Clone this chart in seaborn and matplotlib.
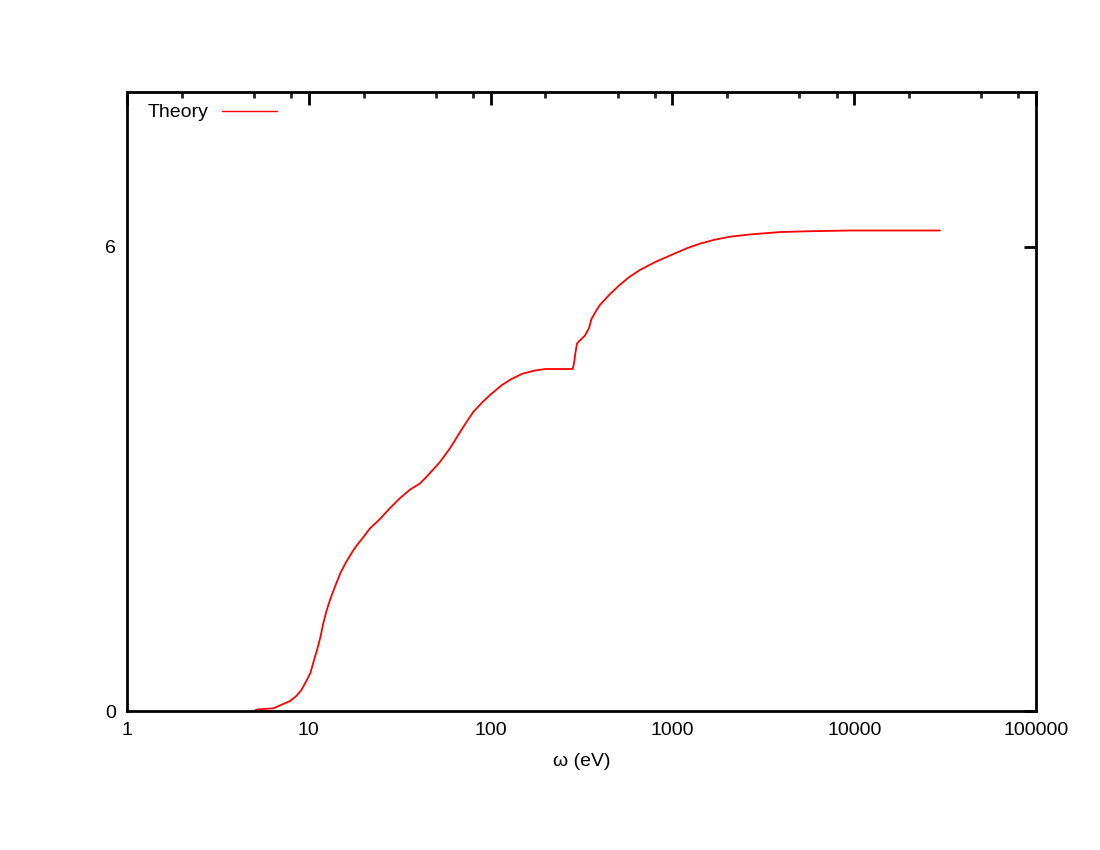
import numpy as np
import pandas as pd
import matplotlib
matplotlib.use("Agg")
import matplotlib.pyplot as plt
import matplotlib.ticker as mticker
import seaborn as sns

# Data (omega in eV, value)
omega = [5.0, 5.2, 6.4, 7.9, 8.5, 9.1, 9.6, 10.2, 10.6, 11.1, 11.6, 12.0, 12.5, 13.1,
         14.0, 14.9, 16.0, 17.6, 18.5, 20.0, 21.7, 24.6, 27.9, 31.7, 36.0, 40.8,
         45.0, 52.7, 60.0, 67.7, 73.0, 80.0, 90.0, 100.0, 115.0, 130.0, 150.0,
         175.0, 200.0, 240.0, 283.0, 287.5, 292.4, 298.7, 310.0, 330.0, 348.0,
         358.0, 380.0, 400.0, 450.0, 515.0, 580.0, 663.0, 800.0, 1000.0, 1200.0,
         1418.0, 1700.0, 2073.0, 2700.0, 3907.0, 5500.0, 9480.0, 29600.0]
theory = [0.0, 0.02, 0.035, 0.13, 0.19, 0.27, 0.37, 0.49, 0.63, 0.79, 0.96, 1.13, 1.29,
          1.44, 1.62, 1.78, 1.92, 2.08, 2.15, 2.25, 2.36, 2.48, 2.62, 2.75, 2.86,
          2.94, 3.04, 3.22, 3.40, 3.60, 3.72, 3.86, 3.99, 4.09, 4.21, 4.29, 4.36,
          4.40, 4.42, 4.42, 4.42, 4.49, 4.62, 4.75, 4.79, 4.85, 4.95,
          5.06, 5.17, 5.25, 5.38, 5.51, 5.61, 5.70, 5.80, 5.90, 5.98,
          6.04, 6.09, 6.13, 6.16, 6.19, 6.20, 6.21, 6.21]
x_ticks = [1, 10, 100, 1000, 10000, 100000]
x_tick_labels = ["1", "10", "100", "1000", "10000", "100000"]
y_ticks = [0, 6]
y_tick_labels = ["0", "6"]

df = pd.DataFrame({"omega": omega, "Theory": theory})

sns.set_style("white")
plt.rcParams["font.family"] = ["Liberation Sans", "DejaVu Sans"]
plt.rcParams["text.color"] = "black"
plt.rcParams["axes.labelcolor"] = "black"

fig = plt.figure(figsize=(11, 8.5), dpi=100)
ax = fig.add_axes([127/1100, 1-711/850, (1036-127)/1100, (711-92)/850])

sns.lineplot(data=df, x="omega", y="Theory", ax=ax, color="#ff0000",
             linewidth=1.3, estimator=None, sort=False, label="Theory")

ax.set_xscale("log")
ax.set_xlim(1, 100000)
ax.set_ylim(0, 8)
ax.set_xticks(x_ticks)
ax.set_xticklabels(x_tick_labels)
ax.xaxis.set_minor_locator(mticker.LogLocator(base=10, subs=(2, 5, 8)))
ax.xaxis.set_minor_formatter(mticker.NullFormatter())
ax.set_yticks(y_ticks)
ax.set_yticklabels(y_tick_labels)

ax.tick_params(axis="both", which="major", direction="in", length=9, width=2,
               top=True, right=True, labelsize=14, pad=8, colors="black")
ax.tick_params(axis="both", which="minor", direction="in", length=4.5, width=2,
               top=True, right=True)
for s in ax.spines.values():
    s.set_linewidth(2)
    s.set_color("black")

ax.set_xlabel("ω (eV)", fontsize=14, labelpad=10, color="black")
ax.set_ylabel("")

leg = ax.legend(loc="upper left", bbox_to_anchor=(0.0143, 0.9935), frameon=False,
                markerfirst=False, fontsize=14, handlelength=2.8,
                borderaxespad=0, handletextpad=0.7)
for line in leg.get_lines():
    line.set_linewidth(1)
for t in leg.get_texts():
    t.set_color("black")

fig.savefig("out.png", dpi=100, facecolor="white")
